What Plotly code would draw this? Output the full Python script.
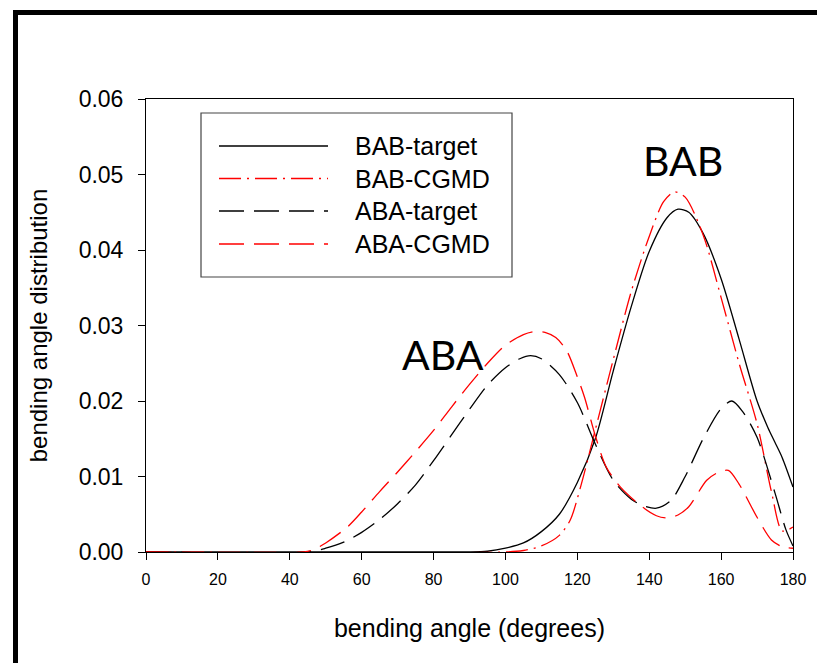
import plotly.graph_objects as go

# ---- data: bending angle distributions (angle in degrees) ----
bab_target_angle = [0, 90, 95, 100, 105, 110, 115, 120, 125, 130, 135, 140, 145, 148, 151,
                    155, 160, 165, 170, 173, 175, 177, 180]
bab_target_value = [0, 0, 0.0001, 0.0005, 0.0012, 0.0027, 0.0050, 0.0092, 0.0150, 0.0240,
                    0.0325, 0.0398, 0.0443, 0.0454, 0.0450, 0.0422, 0.0362, 0.0282, 0.0200,
                    0.0165, 0.0145, 0.0125, 0.0086]

bab_cgmd_angle = [0, 100, 105, 110, 115, 118, 121, 125, 130, 135, 140, 144, 147, 150, 155,
                  160, 165, 170, 174, 177, 180]
bab_cgmd_value = [0, 0, 0.0002, 0.0008, 0.0022, 0.0042, 0.0088, 0.0162, 0.0255, 0.0345,
                  0.0418, 0.0464, 0.0477, 0.0470, 0.0420, 0.0337, 0.0250, 0.0170, 0.0080,
                  0.0028, 0.0033]

aba_target_angle = [0, 45, 50, 55, 60, 65, 70, 75, 80, 85, 90, 95, 100, 104, 107, 110, 115,
                    120, 125, 130, 135, 138, 142, 146, 150, 155, 160, 163, 166, 170, 175,
                    178, 180]
aba_target_value = [0, 0, 0.0005, 0.0013, 0.0026, 0.0043, 0.0064, 0.0089, 0.0121, 0.0155,
                    0.0189, 0.0221, 0.0244, 0.0256, 0.0260, 0.0256, 0.0235, 0.0198, 0.0143,
                    0.0095, 0.0070, 0.0062, 0.0058, 0.0068, 0.0100, 0.0150, 0.0190, 0.0200,
                    0.0186, 0.0152, 0.0078, 0.0030, 0.0008]

aba_cgmd_angle = [0, 44, 47, 50, 56, 60, 65, 70, 75, 80, 85, 90, 95, 100, 105, 108, 111,
                  114, 117, 120, 122, 125, 128, 132, 138, 142, 145, 148, 151, 156, 159,
                  162, 165, 170, 174, 177, 180]
aba_cgmd_value = [0, 0, 0.0004, 0.0012, 0.0033, 0.0053, 0.0080, 0.0106, 0.0133, 0.0161,
                  0.0192, 0.0222, 0.0250, 0.0274, 0.0288, 0.0292, 0.0291, 0.0284, 0.0267,
                  0.0232, 0.0205, 0.0154, 0.0113, 0.0086, 0.0060, 0.0048, 0.0045, 0.0049,
                  0.0060, 0.0095, 0.0105, 0.0108, 0.0090, 0.0046, 0.0016, 0.0007, 0.0005]

series_names = ["BAB-target", "BAB-CGMD", "ABA-target", "ABA-CGMD"]
series_angles = [bab_target_angle, bab_cgmd_angle, aba_target_angle, aba_cgmd_angle]
series_values = [bab_target_value, bab_cgmd_value, aba_target_value, aba_cgmd_value]
series_colors = ["black", "red", "black", "red"]
series_dashes = ["solid", "22px,6px,2px,6px", "25px,10px", "25px,10px"]

x_ticks = [0, 20, 40, 60, 80, 100, 120, 140, 160, 180]
y_ticks = [0.00, 0.01, 0.02, 0.03, 0.04, 0.05, 0.06]
y_tick_text = ["0.00", "0.01", "0.02", "0.03", "0.04", "0.05", "0.06"]

peak_labels = ["BAB", "ABA"]
peak_label_pos = [(149.4, 0.0519), (82.6, 0.0262)]

# ---- layout geometry (pixels) ----
W, H = 817, 663
L, R, T, B = 146, 24, 99, 111
PW, PH = W - L - R, H - T - B


def px(x):
    return (x - L) / PW


def py(y):
    return (H - B - y) / PH


fig = go.Figure()
for name, xs, ys, col, dash in zip(series_names, series_angles, series_values,
                                   series_colors, series_dashes):
    fig.add_trace(go.Scatter(x=xs, y=ys, name=name, mode="lines",
                             line=dict(color=col, width=1.3, dash=dash, shape="spline",
                                       smoothing=0.8),
                             showlegend=False, hoverinfo="x+y"))

shapes = []
annotations = []

# outer black frame
shapes.append(dict(type="line", xref="paper", yref="paper", x0=px(13), x1=px(830),
                   y0=py(12.5), y1=py(12.5), line=dict(color="black", width=5)))
shapes.append(dict(type="line", xref="paper", yref="paper", x0=px(15.5), x1=px(15.5),
                   y0=py(10), y1=py(680), line=dict(color="black", width=5)))

# legend box with line samples
shapes.append(dict(type="rect", xref="paper", yref="paper", x0=px(201), x1=px(512),
                   y0=py(113), y1=py(277), line=dict(color="#444", width=1.2)))
row_y = [146, 178.5, 211, 244]
for name, col, dash, ry in zip(series_names, series_colors, series_dashes, row_y):
    shapes.append(dict(type="line", xref="paper", yref="paper", x0=px(219), x1=px(328),
                       y0=py(ry), y1=py(ry), line=dict(color=col, width=1.3, dash=dash)))
    annotations.append(dict(xref="paper", yref="paper", x=px(353), y=py(ry),
                            xanchor="left", yanchor="middle", showarrow=False, text=name,
                            font=dict(family="Liberation Sans, Arial", size=25, color="black")))

# peak labels
for txt, (ax_, ay_) in zip(peak_labels, peak_label_pos):
    annotations.append(dict(x=ax_, y=ay_, xref="x", yref="y", text=txt, showarrow=False,
                            xanchor="center", yanchor="middle",
                            font=dict(family="Lato, Open Sans", size=41, color="black")))

axis_font = dict(family="Liberation Sans, Arial", color="black")

fig.update_layout(
    width=W, height=H,
    margin=dict(l=L, r=R, t=T, b=B, autoexpand=False),
    paper_bgcolor="white", plot_bgcolor="white",
    shapes=shapes, annotations=annotations,
    xaxis=dict(range=[0, 180], tickvals=x_ticks, ticks="outside", ticklen=7,
               tickwidth=1, tickcolor="black", showline=True, linecolor="black",
               linewidth=1, mirror=True, showgrid=False, zeroline=False,
               ticklabelstandoff=6,
               tickfont=dict(size=16, **axis_font),
               title=dict(text="bending angle (degrees)", font=dict(size=25, **axis_font),
                          standoff=32)),
    yaxis=dict(range=[0, 0.06], tickvals=y_ticks, ticktext=y_tick_text, ticks="outside",
               ticklen=7, tickwidth=1, tickcolor="black", showline=True,
               linecolor="black", linewidth=1, mirror=True, showgrid=False,
               zeroline=False, ticklabelstandoff=10, tickfont=dict(size=23, **axis_font),
               title=dict(text="bending angle distribution", font=dict(size=24, **axis_font),
                          standoff=24)),
)

fig.write_html("out.html")
